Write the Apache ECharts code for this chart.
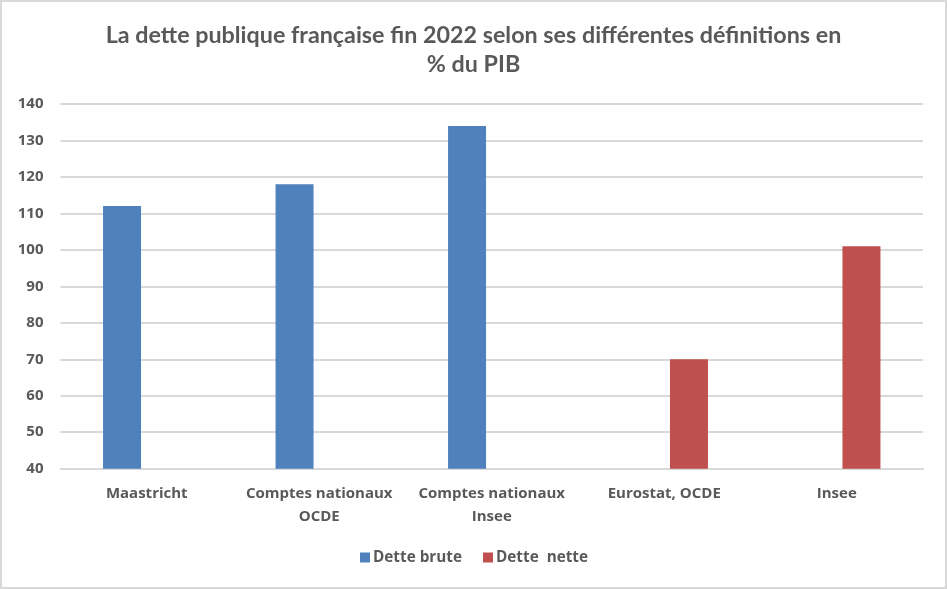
<!DOCTYPE html>
<html>
<head>
<meta charset="utf-8">
<script src="https://cdn.jsdelivr.net/npm/echarts@6/dist/echarts.min.js"></script>
<style>
html,body{margin:0;padding:0;background:#fff;}
#chart{width:947px;height:589px;}
</style>
</head>
<body>
<div id="chart"></div>
<script>
const titleText = "La dette publique française fin 2022 selon ses différentes définitions en\n% du PIB";
const categories = ["Maastricht", "Comptes nationaux\nOCDE", "Comptes nationaux\nInsee", "Eurostat, OCDE", "Insee"];
const detteBrute = [112, 118, 134, null, null];
const detteNette = [null, null, null, 70, 101];
const seriesNames = ["Dette brute", "Dette  nette"];
const yMin = 40, yMax = 140, yStep = 10;

const textColor = "#595959";
const chart = echarts.init(document.getElementById("chart"));
chart.setOption({
  animation: false,
  backgroundColor: "#fff",
  graphic: [{
    type: "rect",
    shape: {x: 1, y: 1, width: 945, height: 587},
    style: {fill: "none", stroke: "#d9d9d9", lineWidth: 2},
    silent: true
  }],
  title: {
    text: titleText,
    left: "center",
    top: 15.5,
    textStyle: {
      fontFamily: "Lato",
      fontWeight: "bold",
      fontSize: 23.3,
      color: textColor,
      lineHeight: 29
    }
  },
  legend: {
    bottom: 19,
    left: 355,
    itemWidth: 10,
    itemHeight: 10,
    itemGap: 21,
    icon: "rect",
    textStyle: {fontFamily: "Open Sans", fontWeight: "bold", fontSize: 15.3, color: textColor, padding: [0,0,0,-2]},
    data: seriesNames
  },
  grid: {left: 60.5, right: 24, top: 104, bottom: 120.3, containLabel: false},
  xAxis: {
    type: "category",
    data: categories,
    axisLine: {lineStyle: {color: "#d9d9d9", width: 2}},
    axisTick: {show: false},
    axisLabel: {
      fontFamily: "Open Sans", fontWeight: "bold", fontSize: 15, color: textColor,
      margin: 14, lineHeight: 23, interval: 0
    }
  },
  yAxis: {
    type: "value",
    min: yMin, max: yMax, interval: yStep,
    axisLine: {show: false},
    axisTick: {show: false},
    splitLine: {lineStyle: {color: "#d9d9d9", width: 2}},
    axisLabel: {fontFamily: "Open Sans", fontWeight: "bold", fontSize: 15, color: textColor, margin: 17}
  },
  series: [
    {name: seriesNames[0], type: "bar", data: detteBrute, barWidth: 38, barGap: "30%",
     itemStyle: {color: "#4F81BD"}},
    {name: seriesNames[1], type: "bar", data: detteNette, barWidth: 38, barGap: "30%",
     itemStyle: {color: "#C0504D"}}
  ]
});
</script>
</body>
</html>
